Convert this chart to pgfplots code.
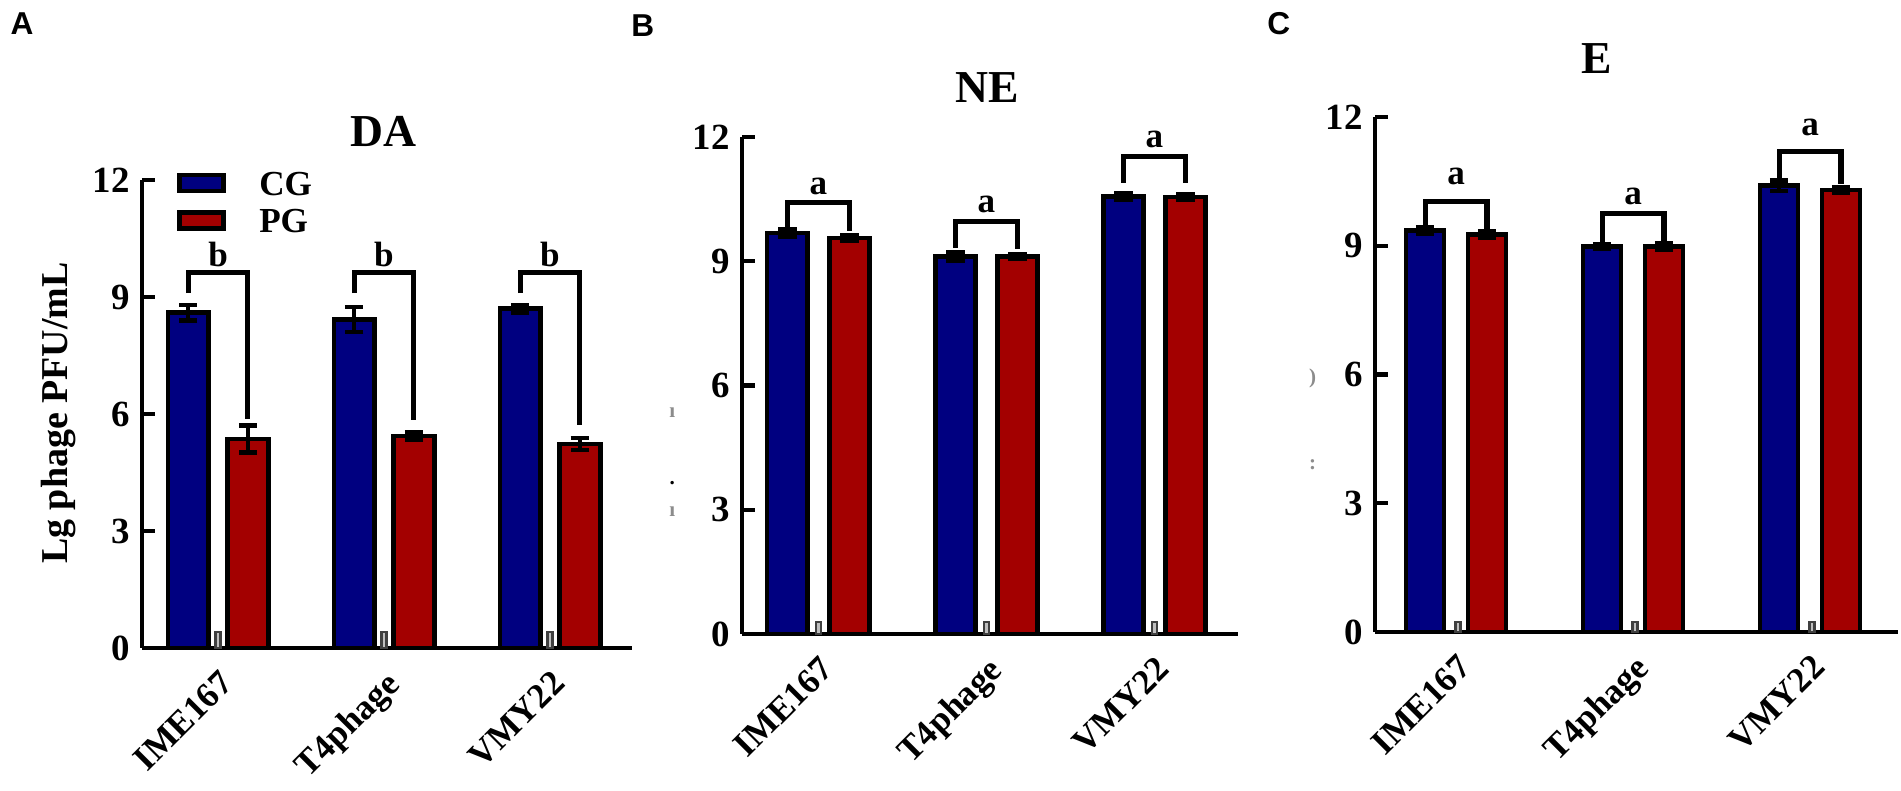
\documentclass[border=0pt]{standalone}
\usepackage{fontspec}
\setmainfont{Liberation Serif}
\newfontfamily\arialfont{Liberation Sans}
\usepackage{pgfplots}
\pgfplotsset{compat=1.18}
\definecolor{cgblue}{HTML}{000080}
\definecolor{pgred}{HTML}{A30000}

\tikzset{
 sig/.style={font=\fontsize{10}{10}\selectfont\bfseries},
 ttl/.style={font=\fontsize{13}{13}\selectfont\bfseries},
 plab/.style={font=\arialfont\fontsize{9}{9}\selectfont\bfseries},
 junk/.style={font=\fontsize{6}{6}\selectfont\bfseries, text=black!45},
}
\pgfplotsset{
 panel/.style={
   scale only axis,
   axis x line*=bottom, axis y line*=left,
   axis line style={line width=1.15pt},
   ymin=0, ymax=12, ytick={0,3,6,9,12},
   xtick={0,1,2}, xticklabels={IME167,T4phage,VMY22},
   major tick length=0.13cm, tick align=inside,
   xtick style={draw=none},
   ytick style={line width=1.15pt, black},
   /pgf/number format/assume math mode=true,
   yticklabel style={font=\fontsize{10.5}{10.5}\selectfont\bfseries},
   xticklabel style={font=\fontsize{10}{10}\selectfont\bfseries, inner sep=0pt, yshift=-0.2cm, rotate=45, anchor=north east},
   clip=false,
 },
 errs/.style={error bars/y dir=both, error bars/y explicit,
   error bars/error bar style={line width=1.3pt,black},
   error bars/error mark options={rotate=90, mark size=2.6pt, line width=1.3pt, black}},
 cgbar/.style={ybar, bar shift=0pt, fill=cgblue, draw=black, line width=1.3pt, errs},
 pgbar/.style={ybar, bar shift=0pt, fill=pgred, draw=black, line width=1.3pt, errs},
 bracket/.style={black, line width=1.45pt, sharp plot, forget plot, mark=none, line join=miter},
 tinybar/.style={ybar, bar width=0.028, bar shift=0pt, fill=black!25, draw=black!75, line width=0.7pt, forget plot},
}

\begin{document}
\begin{tikzpicture}
\useasboundingbox (0,0) rectangle (19.01cm,7.91cm);

% ---------------- Panel A
\begin{axis}[panel, at={(1.42cm,1.43cm)}, anchor=south west, width=4.90cm, height=4.68cm,
  xmin=-0.458, xmax=2.494,
  legend style={at={(rel axis cs:0.0714,1.02)}, anchor=north west, draw=none, fill=none,
    inner sep=0pt, outer sep=0pt, column sep=0pt, row sep=3.7pt,
    nodes={inner sep=0pt, outer sep=0pt, text height=7pt, text depth=0pt},
    font=\fontsize{10}{10}\selectfont\bfseries, cells={anchor=west}},
  legend image code/.code={\draw[#1, line width=1.3pt] (0cm,-0.08cm) rectangle (0.44cm,0.08cm); \path[draw=none, fill=none] (0cm,0cm) -- (0.8cm,0cm);},
]
\addplot[cgbar, bar width=0.245] coordinates {(-0.18,8.6) +- (0,0.2) (0.82,8.42) +- (0,0.32) (1.82,8.7) +- (0,0.1)};
\addlegendentry{CG}
\addplot[pgbar, bar width=0.245] coordinates {(0.18,5.36) +- (0,0.35) (1.18,5.44) +- (0,0.09) (2.18,5.23) +- (0,0.15)};
\addlegendentry{PG}
\addplot[tinybar] coordinates {(0,0.41) (1,0.41) (2,0.41)};
\addplot[bracket] coordinates {(-0.18,9.1) (-0.18,9.62) (0.18,9.62) (0.18,5.87)};
\addplot[bracket] coordinates {(0.82,9.1) (0.82,9.62) (1.18,9.62) (1.18,5.85)};
\addplot[bracket] coordinates {(1.82,9.1) (1.82,9.62) (2.18,9.62) (2.18,5.72)};
\node[sig] at (axis cs:0,10.08) {b};
\node[sig] at (axis cs:1,10.08) {b};
\node[sig] at (axis cs:2,10.08) {b};
\node[ttl] at (rel axis cs:0.492,1.103) {DA};
\node[plab] at (rel axis cs:-0.245,1.335) {A};
\node[rotate=90, font=\fontsize{10.8}{11}\selectfont\bfseries] at (rel axis cs:-0.171,0.502) {Lg phage PFU/mL};
\end{axis}

% ---------------- Panel B
\begin{axis}[panel, at={(7.42cm,1.57cm)}, anchor=south west, width=4.96cm, height=4.97cm,
  xmin=-0.455, xmax=2.497]
\addplot[cgbar, bar width=0.24] coordinates {(-0.185,9.68) +- (0,0.08) (0.815,9.12) +- (0,0.1) (1.815,10.57) +- (0,0.08)};
\addplot[pgbar, bar width=0.24] coordinates {(0.185,9.56) +- (0,0.06) (1.185,9.12) +- (0,0.05) (2.185,10.55) +- (0,0.07)};
\addplot[tinybar] coordinates {(0,0.29) (1,0.29) (2,0.29)};
\addplot[bracket] coordinates {(-0.185,9.78) (-0.185,10.41) (0.185,10.41) (0.185,9.72)};
\addplot[bracket] coordinates {(0.815,9.32) (0.815,9.95) (1.185,9.95) (1.185,9.3)};
\addplot[bracket] coordinates {(1.815,10.89) (1.815,11.52) (2.185,11.52) (2.185,10.89)};
\node[sig] at (axis cs:0,10.8) {a};
\node[sig] at (axis cs:1,10.36) {a};
\node[sig] at (axis cs:2,11.93) {a};
\node[ttl] at (rel axis cs:0.494,1.099) {NE};
\node[plab] at (rel axis cs:-0.2,1.225) {B};
\node[junk] at (axis cs:-0.87,5.34) {ı};
\node[junk, text=black] at (axis cs:-0.87,3.65) {.};
\node[junk] at (axis cs:-0.87,2.95) {ı};
\end{axis}

% ---------------- Panel C
\begin{axis}[panel, at={(13.75cm,1.59cm)}, anchor=south west, width=5.23cm, height=5.15cm,
  xmin=-0.458, xmax=2.497]
\addplot[cgbar, bar width=0.215] coordinates {(-0.175,9.35) +- (0,0.08) (0.825,8.98) +- (0,0.06) (1.825,10.4) +- (0,0.12)};
\addplot[pgbar, bar width=0.215] coordinates {(0.175,9.26) +- (0,0.08) (1.175,8.98) +- (0,0.07) (2.175,10.3) +- (0,0.07)};
\addplot[tinybar] coordinates {(0.01,0.23) (1.01,0.23) (2.01,0.23)};
\addplot[bracket] coordinates {(-0.175,9.47) (-0.175,10.03) (0.175,10.03) (0.175,9.4)};
\addplot[bracket] coordinates {(0.825,9.08) (0.825,9.75) (1.175,9.75) (1.175,9.08)};
\addplot[bracket] coordinates {(1.825,10.56) (1.825,11.2) (2.175,11.2) (2.175,10.45)};
\node[sig] at (axis cs:0,10.62) {a};
\node[sig] at (axis cs:1,10.14) {a};
\node[sig] at (axis cs:2,11.76) {a};
\node[ttl] at (rel axis cs:0.424,1.113) {E};
\node[plab] at (rel axis cs:-0.184,1.181) {C};
\node[junk] at (axis cs:-0.81,5.9) {)};
\node[junk] at (axis cs:-0.81,3.9) {:};
\end{axis}
\end{tikzpicture}
\end{document}
